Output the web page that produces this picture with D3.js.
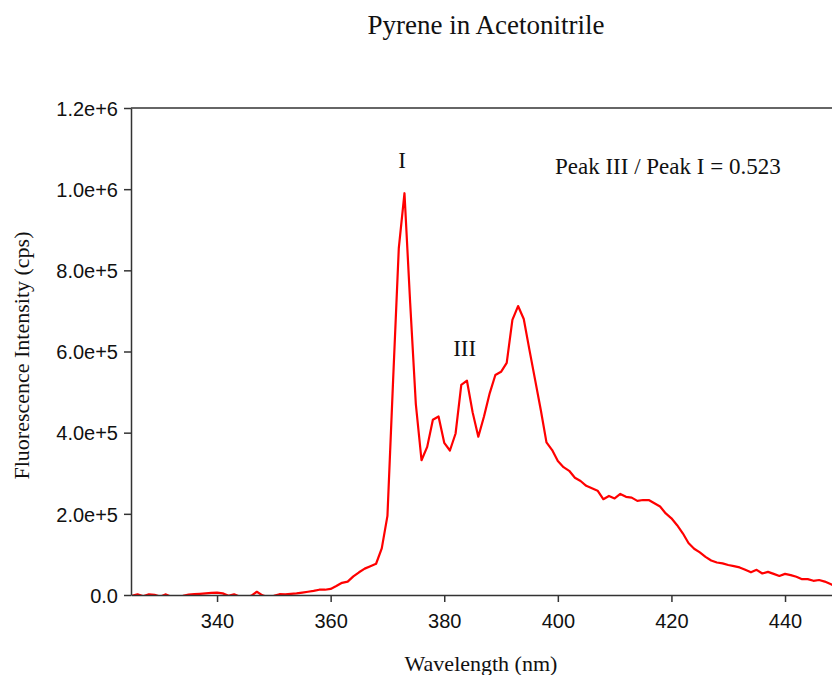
<!DOCTYPE html>
<html>
<head>
<meta charset="utf-8">
<script src="https://cdn.jsdelivr.net/npm/d3@7"></script>
<style>
  body { margin: 0; background: #fff; }
  svg { display: block; }
</style>
</head>
<body>
<div id="chart"></div>
<script>
// wavelength (nm), one reading per nm
const wavelengths = [
  325, 326, 327, 328, 329, 330, 331, 332, 333, 334, 335, 336, 337, 338, 339,
  340, 341, 342, 343, 344, 345, 346, 347, 348, 349, 350, 351, 352, 353, 354,
  355, 356, 357, 358, 359, 360, 361, 362, 363, 364, 365, 366, 367, 368, 369,
  370, 371, 372, 373, 374, 375, 376, 377, 378, 379, 380, 381, 382, 383, 384,
  385, 386, 387, 388, 389, 390, 391, 392, 393, 394, 395, 396, 397, 398, 399,
  400, 401, 402, 403, 404, 405, 406, 407, 408, 409, 410, 411, 412, 413, 414,
  415, 416, 417, 418, 419, 420, 421, 422, 423, 424, 425, 426, 427, 428, 429,
  430, 431, 432, 433, 434, 435, 436, 437, 438, 439, 440, 441, 442, 443, 444,
  445, 446, 447, 448, 449
];
// fluorescence intensity (cps)
const intensity = [
  -2000, 1500, -3000, 1500, 500, -4000, 1500, -5000, -3000, -2000, 1000, 2000, 3000, 4000, 5000,
  6000, 4000, -2000, 1500, -4000, -6000, -2000, 8000, -1000, -5000, -2000, 2000, 1500, 3000, 4000,
  6000, 8000, 10000, 13000, 13000, 15000, 22000, 30000, 33000, 46000, 56000, 65000, 71000, 77000, 115000,
  195000, 530000, 855000, 990000, 720000, 470000, 332000, 365000, 432000, 440000, 375000, 356000, 398000, 518000, 528000,
  450000, 390000, 440000, 497000, 542000, 550000, 572000, 678000, 712000, 680000, 604000, 530000, 456000, 376000, 357000,
  330000, 315000, 306000, 289000, 281000, 269000, 263000, 257000, 236000, 244000, 238000, 249000, 242000, 240000, 232000,
  234000, 234000, 226000, 218000, 201000, 189000, 172000, 152000, 128000, 114000, 105000, 94000, 85000, 80000, 78000,
  74000, 71000, 68000, 62000, 56000, 62000, 53000, 57000, 52000, 47000, 52000, 49000, 45000, 39000, 39000,
  35000, 37000, 33000, 27000, 21000
];

const xTicks = [340, 360, 380, 400, 420, 440];
const yTicks = [0, 200000, 400000, 600000, 800000, 1000000, 1200000];
const yTickLabels = ["0.0", "2.0e+5", "4.0e+5", "6.0e+5", "8.0e+5", "1.0e+6", "1.2e+6"];

const peakLabels = ["I", "III"];
const peakWavelengths = [372.6, 383.6];
const peakLabelValues = [1053000, 588000];
const ratioText = "Peak III / Peak I = 0.523";

const W = 832, H = 675;
const plot = { left: 131, right: 832, top: 108, bottom: 595 };

const svg = d3.select("#chart").append("svg")
    .attr("width", W)
    .attr("height", H);

const x = d3.scaleLinear()
    .domain([324.85, 448.27])
    .range([plot.left, plot.right]);

const y = d3.scaleLinear()
    .domain([0, 1200000])
    .range([plot.bottom, plot.top]);

const serif = "'Liberation Serif', 'Times New Roman', serif";
const sans = "'Liberation Sans', Arial, sans-serif";

// title
svg.append("text")
    .attr("x", 486)
    .attr("y", 34)
    .attr("text-anchor", "middle")
    .style("font-family", serif)
    .style("font-size", "27px")
    .attr("fill", "#111")
    .text("Pyrene in Acetonitrile");

svg.append("defs").append("clipPath")
    .attr("id", "plot-clip")
    .append("rect")
    .attr("x", plot.left)
    .attr("y", plot.top)
    .attr("width", plot.right - plot.left)
    .attr("height", plot.bottom - plot.top);

// data line (clipped, so the dips under zero leave gaps)
const data = wavelengths.map((w, i) => ({ w: w, v: intensity[i] }));
const line = d3.line()
    .x(d => x(d.w))
    .y(d => y(d.v));

svg.append("path")
    .datum(data)
    .attr("clip-path", "url(#plot-clip)")
    .attr("fill", "none")
    .attr("stroke", "#ff0000")
    .attr("stroke-width", 2.2)
    .attr("stroke-linejoin", "round")
    .attr("d", line);

// X axis
const xAxis = svg.append("g")
    .attr("transform", `translate(0,${plot.bottom})`)
    .call(d3.axisBottom(x).tickValues(xTicks).tickSize(7).tickPadding(12).tickSizeOuter(0));

// Y axis
const yAxis = svg.append("g")
    .attr("transform", `translate(${plot.left},0)`)
    .call(d3.axisLeft(y).tickValues(yTicks).tickSize(7).tickPadding(6).tickSizeOuter(0)
        .tickFormat((d, i) => yTickLabels[i]));

[xAxis, yAxis].forEach(g => {
    g.select(".domain").attr("stroke", "#333").attr("stroke-width", 1.5);
    g.selectAll(".tick line").attr("stroke", "#333").attr("stroke-width", 1.5);
    g.selectAll(".tick text")
        .attr("fill", "#111")
        .style("font-family", sans)
        .style("font-size", "20px");
});
yAxis.selectAll(".tick text").attr("dy", "0.36em");

// top frame line
svg.append("line")
    .attr("x1", plot.left)
    .attr("x2", plot.right)
    .attr("y1", plot.top)
    .attr("y2", plot.top)
    .attr("stroke", "#333")
    .attr("stroke-width", 1.5);

// axis titles
svg.append("text")
    .attr("x", 481)
    .attr("y", 671)
    .attr("text-anchor", "middle")
    .style("font-family", serif)
    .style("font-size", "22px")
    .attr("fill", "#111")
    .text("Wavelength (nm)");

svg.append("text")
    .attr("transform", `translate(29,${(plot.top + plot.bottom) / 2 + 4}) rotate(-90)`)
    .attr("text-anchor", "middle")
    .style("font-family", serif)
    .style("font-size", "22px")
    .attr("fill", "#111")
    .text("Fluorescence Intensity (cps)");

// peak labels
svg.selectAll(".peak-label")
    .data(peakLabels)
    .enter()
    .append("text")
    .attr("class", "peak-label")
    .attr("x", (d, i) => x(peakWavelengths[i]))
    .attr("y", (d, i) => y(peakLabelValues[i]))
    .attr("text-anchor", "middle")
    .style("font-family", serif)
    .style("font-size", "23px")
    .attr("fill", "#111")
    .text(d => d);

svg.append("text")
    .attr("x", 555)
    .attr("y", 174)
    .style("font-family", serif)
    .style("font-size", "23px")
    .attr("fill", "#111")
    .text(ratioText);
</script>
</body>
</html>
